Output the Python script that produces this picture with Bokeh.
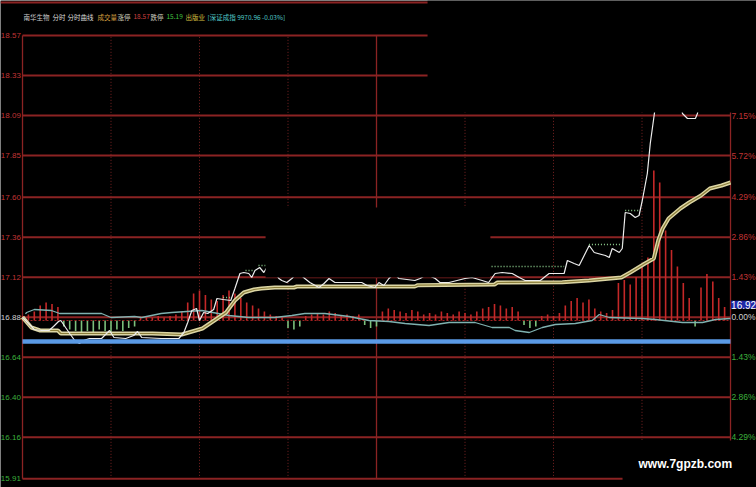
from bokeh.plotting import figure
from bokeh.models import BoxAnnotation, Label, Range1d, Span
from bokeh.core.properties import value
from bokeh.embed import file_html
from bokeh.resources import INLINE

# ---------------- data ----------------
prev_close = 16.88
price_ticks = [18.57, 18.33, 18.09, 17.85, 17.60, 17.36, 17.12, 16.88, 16.64, 16.40, 16.16, 15.91]
price_labels = ["18.57", "18.33", "18.09", "17.85", "17.60", "17.36", "17.12", "16.88", "16.64", "16.40", "16.16", "15.91"]
pct_ticks = [18.09, 17.85, 17.60, 17.36, 17.12, 16.88, 16.64, 16.40, 16.16]
pct_labels = ["7.15%", "5.72%", "4.29%", "2.86%", "1.43%", "0.00%", "1.43%", "2.86%", "4.29%"]
time_grid_dotted = [30, 60, 90, 150, 180, 210]
time_grid_solid = [0, 120, 240]

price_t = [0, 2, 4, 6.4, 9, 10.5, 12.2, 13, 14.6, 16, 17.7, 19.3, 20.7, 22.7, 26.8, 28.5, 29.5, 31, 35,
           37.7, 39, 40.4, 47, 53, 54.7, 56, 57.4, 59, 60, 61.4, 62.8, 64.8, 65.9, 68, 70.6, 72, 73.7, 75,
           76.7, 77.7, 78.8, 80.4, 81.8, 82.8, 85, 86.9, 87.9, 89.6, 91.3, 93.3, 95.7, 97.4, 100.5, 102.2,
           103.9, 105.9, 115, 116.8, 119.5, 120.8, 122.5, 124.2, 126, 127.6, 133, 134.8, 137, 139.9, 141.5,
           144.6, 150, 152.4, 155.8, 158, 160.2, 162.6, 166, 168.4, 170.4, 175.5, 178.5, 183.6, 184.7, 187,
           188.7, 192.1, 193.8, 197.6, 198.9, 199.9, 202.3, 203.3, 204.3, 206, 207.7, 209, 210.1, 211.8,
           212.8, 214.2, 215.5, 217.6, 220.3, 222.3, 223.7, 225.4, 228.1, 228.8, 230.5, 234, 240]
price_v = [16.88, 16.842, 16.806, 16.80, 16.80, 16.824, 16.854, 16.86, 16.818, 16.782, 16.74, 16.722, 16.74,
           16.752, 16.752, 16.782, 16.80, 16.758, 16.752, 16.77, 16.794, 16.758, 16.752, 16.752, 16.788,
           16.848, 16.92, 16.932, 16.86, 16.908, 16.902, 16.926, 16.992, 16.986, 16.98, 17.052, 17.142,
           17.148, 17.142, 17.118, 17.16, 17.178, 17.148, 17.178, 17.16, 17.112, 17.10, 17.088, 17.112,
           17.148, 17.112, 17.088, 17.058, 17.082, 17.112, 17.088, 17.088, 17.07, 17.058, 17.088, 17.07,
           17.112, 17.142, 17.112, 17.10, 17.112, 17.136, 17.112, 17.088, 17.088, 17.112, 17.118, 17.10,
           17.088, 17.142, 17.148, 17.142, 17.118, 17.10, 17.10, 17.142, 17.142, 17.22, 17.202, 17.19,
           17.31, 17.268, 17.25, 17.238, 17.292, 17.268, 17.292, 17.508, 17.502, 17.478, 17.49, 17.58,
           17.742, 17.922, 18.102, 18.30, 18.51, 18.54, 18.30, 18.102, 18.072, 18.072, 18.102, 18.30,
           18.45, 18.40]

avg_t = [0, 3, 6, 12, 13, 27, 44, 54, 61, 65, 69, 72, 75, 78.5, 81, 85.5, 92, 93, 133, 134, 160, 161,
         183, 192, 203, 206, 211, 214, 215.5, 217, 219, 223, 226, 230, 233, 237, 240]
avg_v = [16.88, 16.818, 16.80, 16.80, 16.782, 16.782, 16.782, 16.776, 16.812, 16.86, 16.908, 16.98,
         17.028, 17.046, 17.052, 17.058, 17.058, 17.064, 17.064, 17.072, 17.076, 17.088, 17.09, 17.10,
         17.118, 17.148, 17.202, 17.232, 17.34, 17.412, 17.472, 17.532, 17.568, 17.61, 17.652, 17.67, 17.688]

index_t = [1, 1.4, 4, 9.8, 12.6, 15, 26.8, 30, 38, 40.4, 47, 50.6, 60.8, 70, 76.7, 85.5, 91.3, 95.7,
           102.5, 110.7, 117.4, 124.2, 129.7, 137.8, 144.6, 153.4, 159.2, 165, 167, 171.8, 176.2, 180.6,
           187.4, 193.1, 195.5, 198.9, 210.1, 214.5, 223.7, 230.5, 234.9, 240]
index_v = [16.90, 16.908, 16.926, 16.92, 16.902, 16.902, 16.902, 16.878, 16.884, 16.878, 16.902, 16.908,
           16.92, 16.89, 16.878, 16.878, 16.89, 16.902, 16.902, 16.884, 16.86, 16.854, 16.842, 16.83,
           16.848, 16.848, 16.818, 16.818, 16.80, 16.788, 16.818, 16.836, 16.842, 16.86, 16.896, 16.878,
           16.872, 16.866, 16.848, 16.848, 16.866, 16.872]

bar_t = [2 * i for i in range(120)]
bar_v = [3, 4, 6, 10, 12, 11, 9, -4, -6, -7, -8, -7, -8, -6, -7, -8, -6, -7, -5, -4,
         2, 3, 2, 3, 2, 3, 4, 6, 12, 18, 20, 17, 14, 13, 17, 20, 18, 15, 12, 10,
         8, 6, 4, 3, 2, -5, -6, -4, 3, 4, 5, 4, 6, 5, 3, 4, 3, 4, -3, -5,
         -4, 6, 8, 7, 6, 5, 7, 6, 4, 5, 4, 6, 5, 4, 6, 5, 4, 6, 8, 9,
         11, 10, 8, 9, 6, -3, -5, -4, 3, 4, 3, 5, 10, 13, 15, 12, 14, 8, 6, 5,
         7, 25, 27, 24, 29, 36, 42, 100, 92, 60, 47, 36, 25, 15, -4, 22, 31, 26, 15, 9]

mark_t0 = [159.0, 192.0, 204.3, 68.0, 75.6, 80.0]
mark_t1 = [183.6, 203.3, 209.0, 70.5, 78.0, 82.4]
mark_p = [17.184, 17.316, 17.52, 16.998, 17.16, 17.19]

line_level = 16.734
crosshair_price = 16.92

title_parts = ["南华生物", "分时", "分时曲线", "成交量", "涨停", "18.57", "跌停", "15.19", "出版业",
               "[深证成指 9970.96 -0.03%]"]
title_colors = ["#c8c8c8", "#dcdcdc", "#dcdcdc", "#d8a040", "#d0d0c0", "#d04040", "#d0d0c0", "#40c040",
                "#d8c040", "#50c8c8"]
title_x_ref = [23, 52, 67, 97, 117, 133, 150, 166, 185, 207]

# ---------------- figure ----------------
W, H = 756, 487

p = figure(width=W, height=H, x_range=Range1d(-7.46, 248.81), y_range=Range1d(15.858, 18.78),
           output_backend="svg", toolbar_location=None, min_border=0,
           x_axis_location=None, y_axis_location=None,
           background_fill_color="black", border_fill_color="black", outline_line_color=None)
p.grid.visible = False
p.extra_y_ranges = {"bars": Range1d(-111.33, 213.33)}

GRID = "#8b2323"
# horizontal grid lines
p.segment(x0=[0] * len(price_ticks), x1=[240] * len(price_ticks), y0=price_ticks, y1=price_ticks,
          line_color=GRID, line_width=2)
# vertical grid lines
lo, hi = min(price_ticks), max(price_ticks)
p.segment(x0=time_grid_dotted, x1=time_grid_dotted, y0=[lo] * len(time_grid_dotted),
          y1=[hi] * len(time_grid_dotted), line_color="#7a2222", line_width=1, line_dash="1 2")
p.segment(x0=time_grid_solid, x1=time_grid_solid, y0=[lo] * 3, y1=[hi] * 3,
          line_color=GRID, line_width=1.3)

# bars around the zero line
bar_colors = ["#c42828" if v > 0 else "#7cc07c" for v in bar_v]
p.segment(x0=bar_t, x1=bar_t, y0=[0] * len(bar_t), y1=bar_v, y_range_name="bars",
          line_color=bar_colors, line_width=1.6)
p.segment(x0=[0], x1=[240], y0=[0], y1=[0], y_range_name="bars", line_color="#a02020",
          line_width=1, line_dash="2 2")

# index overlay
p.line(index_t, index_v, line_color="#7fb2b0", line_width=1.3)
# average line (double line look)
p.line(avg_t, avg_v, line_color="#dcd6a4", line_width=4)
p.line(avg_t, avg_v, line_color="#8a7d3a", line_width=1.2)
# price line
p.line(price_t, price_v, line_color="#ececec", line_width=1.2)
# dotted markers
p.segment(x0=mark_t0, x1=mark_t1, y0=mark_p, y1=mark_p, line_color="#8fd08f", line_width=1.5,
          line_dash="1 2")
# blue horizontal line
p.segment(x0=[0], x1=[240], y0=[line_level], y1=[line_level], line_color="#5a9ae6", line_width=4.5)

# axis labels as coloured text
FONT = value("Liberation Sans")
left_colors = ["#c03434" if v > prev_close else ("#d0d0d0" if v == prev_close else "#3cb03c")
               for v in price_ticks]
p.text(x=[-0.55] * len(price_ticks), y=price_ticks, text=price_labels, text_color=left_colors,
       text_font=FONT, text_font_size="8px", text_align="right", text_baseline="middle")
right_colors = ["#c03434" if v > prev_close else ("#d0d0d0" if v == prev_close else "#3cb03c")
                for v in pct_ticks]
p.text(x=[240.3] * len(pct_ticks), y=pct_ticks, text=pct_labels, text_color=right_colors,
       text_font=FONT, text_font_size="8.5px", text_align="left", text_baseline="middle")

# top rule
p.add_layout(Span(location=18.768, dimension="width", line_color=GRID, line_width=2))

# masked (blacked-out) regions of the original picture
for l, r, b, t in [(137.3, 248.81, 18.108, 18.78), (82.4, 158.6, 17.118, 17.538),
                   (203.4, 248.81, 15.858, 16.14)]:
    p.add_layout(BoxAnnotation(left=l, right=r, bottom=b, top=t, fill_color="black", fill_alpha=1,
                               line_alpha=0))

# crosshair price tag
p.add_layout(Label(x=240.2, y=crosshair_price + 0.035, text="%.2f" % crosshair_price,
                   text_color="white", text_font_size="10px", text_baseline="middle",
                   text_font="Liberation Sans", background_fill_color="#1e28a8",
                   background_fill_alpha=1))

# title
for txt, col, xr in zip(title_parts, title_colors, title_x_ref):
    p.add_layout(Label(x=xr, y=H - 16, x_units="screen", y_units="screen", text=txt,
                       text_color=col, text_font_size="6.5px", text_baseline="middle",
                       text_font="Noto Sans CJK SC"))

# watermark
p.add_layout(Label(x=638, y=H - 463, x_units="screen", y_units="screen", text="www.7gpzb.com",
                   text_color="white", text_font_size="12px", text_font_style="bold",
                   text_baseline="middle", text_font="Liberation Sans"))

open("out.html", "w").write(file_html(p, INLINE))
